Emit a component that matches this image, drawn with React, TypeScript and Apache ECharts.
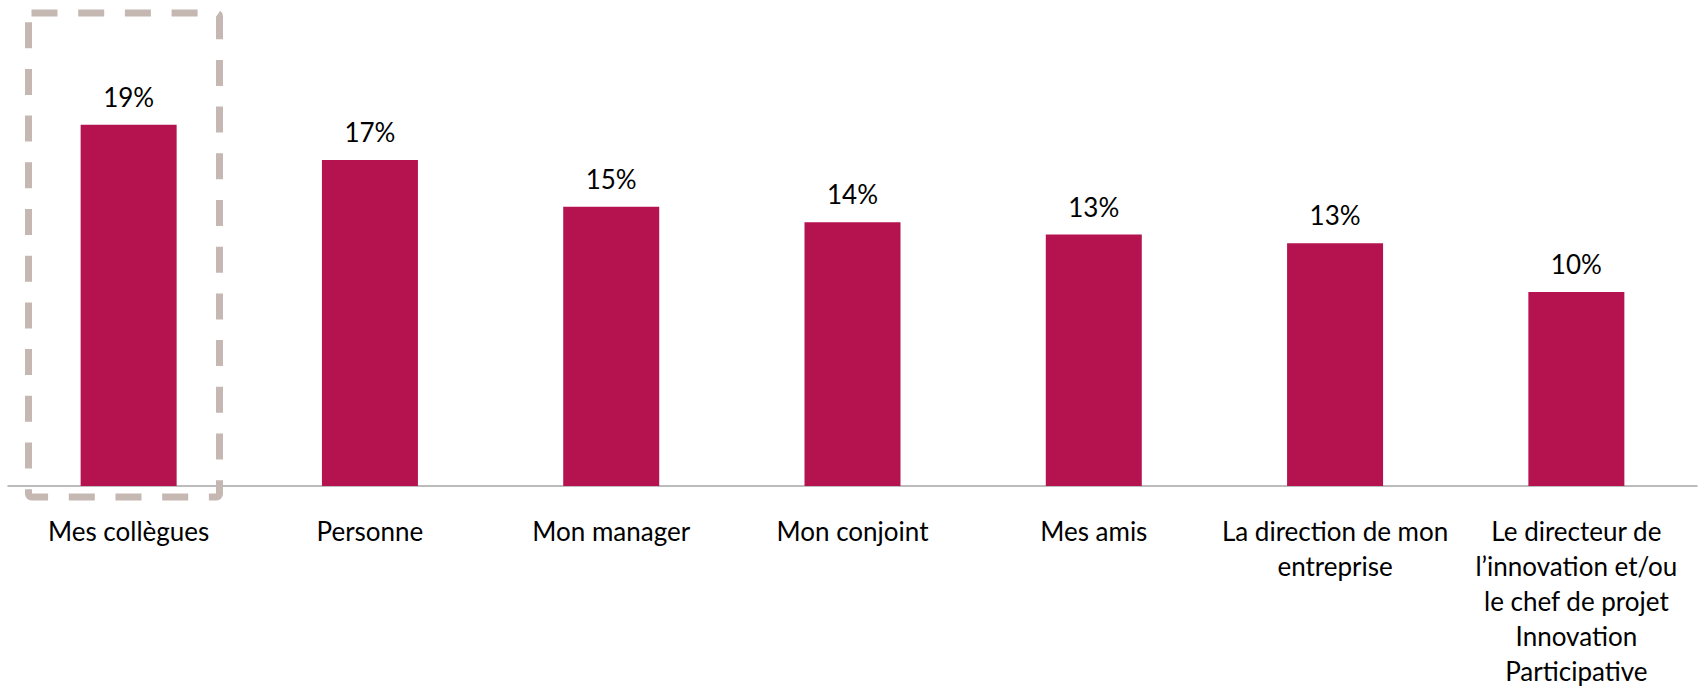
import React, { useEffect, useRef } from "react";
import * as echarts from "echarts";

const categories = [
  "Mes collègues",
  "Personne",
  "Mon manager",
  "Mon conjoint",
  "Mes amis",
  "La direction de mon\nentreprise",
  "Le directeur de\nl’innovation et/ou\nle chef de projet\nInnovation\nParticipative",
];
const values = [18.9, 17.05, 14.6, 13.8, 13.15, 12.7, 10.15];

export default function App() {
  const ref = useRef<HTMLDivElement>(null);
  useEffect(() => {
    if (!ref.current) return;
    const chart = echarts.init(ref.current, undefined, { renderer: "svg" });
    const font = "Lato, 'Liberation Sans', sans-serif";
    chart.setOption({
      animation: false,
      backgroundColor: "#ffffff",
      grid: { left: 8, right: 6, top: 8, bottom: 195, containLabel: false },
      xAxis: {
        type: "category",
        data: categories,
        axisLine: { show: true, lineStyle: { color: "#a6a6a6", width: 1.5 } },
        axisTick: { show: false },
        axisLabel: {
          interval: 0,
          color: "#000000",
          fontFamily: font,
          fontSize: 26,
          lineHeight: 35,
          margin: 27,
        },
      },
      yAxis: {
        type: "value",
        min: 0,
        max: 25,
        show: false,
        splitLine: { show: false },
      },
      series: [
        {
          type: "bar",
          data: values,
          barWidth: 96,
          itemStyle: { color: "#b51350" },
          label: {
            show: true,
            position: "top",
            distance: 15,
            color: "#000000",
            fontFamily: font,
            fontSize: 26,
            formatter: (p: any) => Math.round(p.value) + "%",
          },
        },
      ],
      graphic: [
        {
          type: "rect",
          shape: { x: 28.5, y: 13, width: 191, height: 484, r: 3 },
          style: {
            fill: "none",
            stroke: "#c5b7b2",
            lineWidth: 7,
            lineDash: [26, 20.7],
          },
          z: 10,
        },
      ],
    });
    return () => chart.dispose();
  }, []);
  return (
    <div
      ref={ref}
      style={{ position: "fixed", left: 0, top: 0, width: 1703, height: 688 }}
    />
  );
}
